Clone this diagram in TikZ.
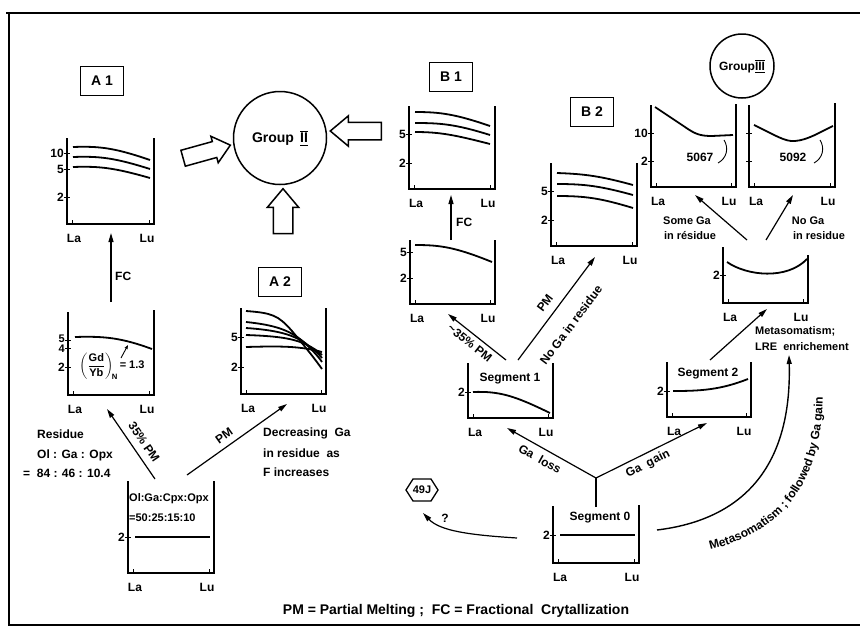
\documentclass[tikz,border=0pt]{standalone}
\usepackage{fontspec}
\setmainfont{Liberation Sans}
\usepackage{amsmath}
\usetikzlibrary{arrows.meta,shapes.arrows,shapes.geometric,decorations.text}
\tikzset{
 ax/.style={line width=1.3pt},
 tk/.style={line width=0.9pt},
 crv/.style={line width=1.8pt},
 arr/.style={line width=1.2pt,-{Triangle[length=9pt,width=5pt]}},
 lbl/.style={inner sep=0pt,font=\fontsize{12}{14}\selectfont\bfseries},
 sml/.style={inner sep=0pt,font=\fontsize{11}{13}\selectfont\bfseries},
 tagbox/.style={draw,line width=1.6pt,minimum width=43pt,minimum height=29pt,inner sep=0pt,font=\fontsize{14}{16}\selectfont\bfseries},
 hollow/.style={single arrow,draw,line width=1.5pt,inner xsep=0pt,single arrow tip angle=80},
}
\newcommand{\rchart}[6]{%
 \draw[ax] (#2,#4) -- (#2,#6) -- (#3,#6) -- (#3,#5);
 \draw[tk] (#2+5,#6) -- (#2+5,#6-4) (#3-5,#6) -- (#3-5,#6-4);
 \node[lbl] (#1-la) at (#2+7,#6+14) {La};
 \node[lbl] (#1-lu) at (#3-7,#6+14) {Lu};
}
\newcommand{\ytk}[4]{%
 \draw[tk] (#2-3,#3) -- (#2+3,#3);
 \node[lbl,anchor=east] (#1) at (#2-3,#3) {#4};
}
\begin{document}
\begin{tikzpicture}[x=1pt,y=-1pt]
\useasboundingbox (0,0) rectangle (860,627);
% frame
\draw[line width=1.6pt] (6,13) -- (860,13);
\draw[line width=1.6pt] (9,13) -- (9,625) -- (860,625);

% ---------- labels ----------
\node[tagbox] (tA1) at (102,81) {A 1};
\node[tagbox] (tA2) at (280,282) {A 2};
\node[tagbox] (tB1) at (451,77) {B 1};
\node[tagbox] (tB2) at (592,112) {B 2};

% A1 top chart
\rchart{ca1}{67}{154}{138}{138}{224}
\ytk{ca1-10}{67}{153}{10}
\ytk{ca1-5}{67}{169}{5}
\ytk{ca1-2}{67}{197}{2}
\draw[crv] (73,147) .. controls (100,146) and (115,148) .. (150,160);
\draw[crv] (73,157) .. controls (100,156) and (115,158) .. (150,169);
\draw[crv] (73,167) .. controls (100,166) and (115,168) .. (150,178);

% A1 lower chart
\rchart{cr}{68}{154}{312}{310}{395}
\draw[tk] (65,340) -- (71,340) (65,348) -- (71,348);
\node[inner sep=0pt,font=\fontsize{11}{12}\selectfont\bfseries,anchor=east] (cr-5) at (65,338.5) {5};
\node[inner sep=0pt,font=\fontsize{11}{12}\selectfont\bfseries,anchor=east] (cr-4) at (65,348.5) {4};
\ytk{cr-2}{68}{367}{2}
\draw[crv] (75,337) .. controls (105,336) and (122,338) .. (152,349);
\node[sml] (gdyb) at (112,366) {$\left(\dfrac{\text{Gd}}{\text{Yb}}\right)_{\!\text{N}}$\,= 1.3};
\coordinate (gp1) at (121,358);
\coordinate (gp2) at (128,345);
\draw[line width=0.9pt,-{Triangle[length=4pt,width=3pt]}] (gp1) -- (gp2);

% A0 chart
\rchart{c0}{128}{214}{481}{481}{573}
\ytk{c0-2}{128}{537}{2}
\draw[crv] (135,537) -- (210,537);
\node[sml,anchor=west] (mode) at (129,499) {Ol:Ga:Cpx:Opx};
\node[sml,anchor=west] (modev) at (129,518) {=50:25:15:10};

% A2 chart
\rchart{ca2}{241}{326}{308}{308}{394}
\ytk{ca2-5}{241}{337}{5}
\ytk{ca2-2}{241}{367}{2}
\draw[crv] (246,311) .. controls (272,313) and (278,315) .. (292,331) .. controls (302,343) and (312,355) .. (322,369);
\draw[crv] (246,322) .. controls (275,325) and (290,330) .. (305,343) .. controls (312,350) and (318,356) .. (322,362);
\draw[crv] (246,328) .. controls (275,330) and (292,334) .. (305,343) .. controls (312,348) and (318,353) .. (322,358);
\draw[crv] (246,335) .. controls (275,336) and (292,338) .. (305,344) .. controls (312,347) and (318,351) .. (322,355);
\draw[crv] (246,347) .. controls (280,346) and (300,346) .. (322,352);

% Group II and hollow arrows
\node[circle,draw,line width=1.5pt,minimum size=93pt,inner sep=0pt,font=\fontsize{14}{16}\selectfont\bfseries] (g2) at (280,138) {Group \,$\overline{\underline{\hbox{II}}}$};
\node[hollow,inner ysep=7.5pt,single arrow head extend=5.5pt,minimum height=49pt,rotate=15.5] (ha1) at (202,153) {};
\node[hollow,inner ysep=8pt,single arrow head extend=6.5pt,minimum height=51pt,rotate=180] (ha2) at (361,131) {};
\node[hollow,inner ysep=9pt,single arrow head extend=6pt,minimum height=45pt,rotate=90] (ha3) at (283,217) {};

% A arrows
\coordinate (fca0) at (111,302); \coordinate (fca1) at (111,233);
\draw[arr] (fca0) -- (fca1);
\node[lbl,anchor=west] (fcA) at (115,276) {FC};
\coordinate (p35a0) at (155,479); \coordinate (p35a1) at (107,409);
\draw[arr] (p35a0) -- (p35a1);
\node[lbl,rotate=-55.6] (l35A) at (144,442) {35\% PM};
\coordinate (pma0) at (187,475); \coordinate (pma1) at (287,404);
\draw[arr] (pma0) -- (pma1);
\node[lbl,rotate=35.4] (lpmA) at (224,436) {PM};

\node[lbl,anchor=west] (res1) at (37,434) {Residue};
\node[lbl,anchor=west] (res2) at (37,455) {Ol : Ga : Opx};
\node[lbl,anchor=west] (res3) at (23,473) {=\ \ 84 : 46 : 10.4};
\node[lbl,anchor=west] (dec1) at (263,433) {Decreasing\ \ Ga};
\node[lbl,anchor=west] (dec2) at (263,453) {in residue\ \ as};
\node[lbl,anchor=west] (dec3) at (263,472) {F increases};

% ---------- B side ----------
\rchart{cb1}{409}{495}{106}{106}{189}
\ytk{cb1-5}{409}{134}{5}
\ytk{cb1-2}{409}{163}{2}
\draw[crv] (415,112) .. controls (440,112) and (455,114) .. (490,126);
\draw[crv] (415,123) .. controls (440,123) and (455,124) .. (490,135);
\draw[crv] (415,132) .. controls (440,132) and (455,135) .. (490,144);

\rchart{cb1r}{410}{495}{240}{240}{304}
\ytk{cb1r-5}{410}{252}{5}
\ytk{cb1r-2}{410}{278}{2}
\draw[crv] (415,245) .. controls (440,245) and (455,247) .. (492,262);

\rchart{cb2}{551}{637}{163}{163}{246}
\ytk{cb2-5}{551}{191}{5}
\ytk{cb2-2}{551}{220}{2}
\draw[crv] (557,173) .. controls (585,174) and (600,176) .. (633,185);
\draw[crv] (557,184) .. controls (585,184) and (600,186) .. (633,195);
\draw[crv] (557,196) .. controls (585,196) and (600,198) .. (633,208);

\rchart{cs1}{468}{553}{363}{363}{418}
\ytk{cs1-2}{468}{392}{2}
\draw[crv] (473,392) .. controls (500,391) and (515,396) .. (550,413);
\node[lbl] (s1) at (510,379) {Segment 1};

\rchart{cs2}{667}{751}{362}{362}{417}
\ytk{cs2-2}{667}{391}{2}
\draw[crv] (673,391) .. controls (700,391) and (720,390) .. (748,379);
\node[lbl] (s2) at (708,374) {Segment 2};

\rchart{cm}{723}{808}{247}{255}{303}
\ytk{cm-2}{723}{275}{2}
\draw[crv] (727,262) .. controls (747,276) and (787,280) .. (807,259);

\rchart{c5067}{651}{736}{105}{104}{187}
\ytk{c5067-10}{651}{133}{10}
\ytk{c5067-2}{651}{161}{2}
\draw[crv] (655,107) -- (685,127) .. controls (695,134) and (700,136) .. (712,136) -- (733,135);
\node[lbl] (n5067) at (700,157) {5067};
\draw[tk] (718,163) .. controls (727,158) and (729,148) .. (724,140);

\rchart{c5092}{749}{835}{105}{103}{187}
\draw[tk] (746,133) -- (752,133) (746,161) -- (752,161);
\draw[crv] (754,125) .. controls (775,135) and (785,142) .. (795,141) .. controls (808,140) and (820,132) .. (833,126);
\node[lbl] (n5092) at (793,157) {5092};
\draw[tk] (814,163) .. controls (823,158) and (825,148) .. (820,140);

\node[circle,draw,line width=1.5pt,minimum size=64pt,inner sep=0pt,font=\fontsize{12}{14}\selectfont\bfseries] (g3) at (742,66) {Group$\overline{\underline{\hbox{III}}}$};

\rchart{cs0}{553}{639}{506}{505}{563}
\ytk{cs0-2}{553}{535}{2}
\draw[crv] (560,535) -- (635,535);
\node[lbl] (s0) at (600,518) {Segment 0};

% B arrows
\coordinate (fcb0) at (451,240); \coordinate (fcb1) at (451,195);
\draw[arr] (fcb0) -- (fcb1);
\node[lbl,anchor=west] (fcB) at (456,222) {FC};
\coordinate (p35b0) at (506,360); \coordinate (p35b1) at (448,314);
\draw[arr] (p35b0) -- (p35b1);
\node[lbl,rotate=-38.4] (l35B) at (470,343) {\textasciitilde35\% PM};
\coordinate (pmb0) at (518,360); \coordinate (pmb1) at (595,257);
\draw[arr] (pmb0) -- (pmb1);
\node[lbl,rotate=53.2] (lpmB) at (545,303) {PM};
\node[lbl,rotate=53.2] (lnoga) at (571,325) {No Ga in residue};

\coordinate (stem) at (596,507); \coordinate (fork) at (596,478);
\coordinate (lossend) at (507,428); \coordinate (gainend) at (707,423);
\draw[line width=1.2pt] (stem) -- (fork);
\draw[arr] (fork) -- (lossend);
\draw[arr] (fork) -- (gainend);
\node[lbl,rotate=-29.3] (lloss) at (540,459) {Ga\ \ loss};
\node[lbl,rotate=26.4] (lgain) at (648,464) {Ga\ \ gain};

\coordinate (s2m0) at (710,360); \coordinate (s2m1) at (767,309);
\draw[arr] (s2m0) -- (s2m1);
\node[sml,anchor=west] (met1) at (755,331) {Metasomatism;};
\node[sml,anchor=west] (met2) at (755,347) {LRE\ \ enrichement};

\coordinate (m10) at (747,240); \coordinate (m11) at (695,195);
\coordinate (m20) at (766,240); \coordinate (m21) at (793,195);
\draw[arr] (m10) -- (m11);
\draw[arr] (m20) -- (m21);
\node[sml] (some1) at (687,221) {Some Ga};
\node[sml] (some2) at (690,236) {in résidue};
\node[sml] (noga1) at (808,221) {No Ga};
\node[sml] (noga2) at (819,236) {in residue};

% hexagon 49J
\draw[line width=1.3pt] (406,490) -- (413,479) -- (431,479) -- (438,490) -- (431,501) -- (413,501) -- cycle;
\node[sml] (hex) at (422,490) {49J};
\coordinate (q0) at (517,538); \coordinate (q1) at (423,513);
\draw[arr] (q0) .. controls (470,535) and (440,531) .. (q1);
\node[lbl] (lq) at (445,518) {?};

% big metasomatism arrow
\coordinate (b0) at (657,530); \coordinate (b1) at (789,355);
\draw[arr,line width=1.4pt] (b0) .. controls (740,520) and (792,470) .. (b1);
\path[decorate,decoration={text along path,text align=center,text={|\fontsize{12}{14}\selectfont\bfseries|Metasomatism ; followed by Ga gain}}] (672,556) .. controls (795,545) and (832,468) .. (821,358);

% caption
\node[inner sep=0pt,font=\fontsize{14}{16}\selectfont\bfseries] (cap) at (456,611) {PM = Partial Melting ;\ \ FC = Fractional\ \ Crytallization};
\end{tikzpicture}
\end{document}
